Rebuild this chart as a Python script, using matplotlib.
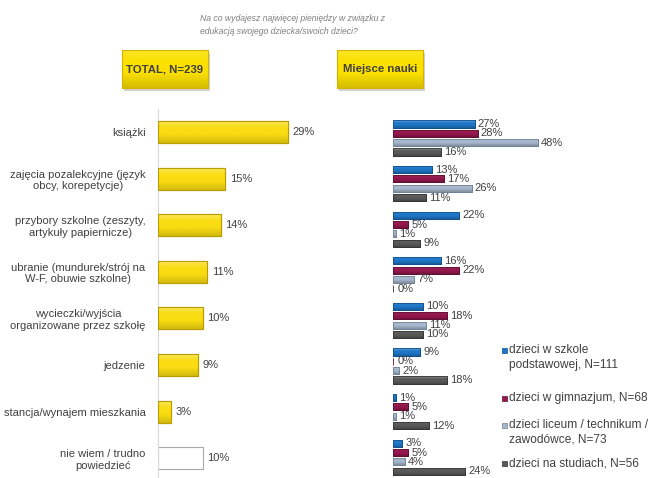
import matplotlib
matplotlib.use("Agg")
import matplotlib.pyplot as plt
import numpy as np
from matplotlib.patches import Rectangle
from matplotlib.colors import to_rgb

plt.rcParams['font.family'] = ['Liberation Sans', 'DejaVu Sans']

# ---------------- data ----------------
categories = [
    "książki",
    "zajęcia pozalekcyjne (język\nobcy, korepetycje)",
    "przybory szkolne (zeszyty,\nartykuły papiernicze)",
    "ubranie (mundurek/strój na\nW-F, obuwie szkolne)",
    "wycieczki/wyjścia\norganizowane przez szkołę",
    "jedzenie",
    "stancja/wynajem mieszkania",
    "nie wiem / trudno\npowiedzieć",
]
total = [29, 15, 14, 11, 10, 9, 3, 10]

series_names = [
    "dzieci w szkole\npodstawowej, N=111",
    "dzieci w gimnazjum, N=68",
    "dzieci liceum / technikum /\nzawodówce, N=73",
    "dzieci na studiach, N=56",
]
podstawowa = [27, 13, 22, 16, 10, 9, 1, 3]
gimnazjum = [28, 17, 5, 22, 18, 0, 5, 5]
liceum = [48, 26, 1, 7, 11, 2, 1, 4]
studia = [16, 11, 9, 0, 10, 18, 12, 24]
series_values = [podstawowa, gimnazjum, liceum, studia]

title = "Na co wydajesz najwięcej pieniędzy w związku z\nedukacją swojego dziecka/swoich dzieci?"
header_left = "TOTAL, N=239"
header_right = "Miejsce nauki"

# ---------------- style ----------------
W, H = 653, 478
series_colors = ["#1f77c8", "#95184e", "#a6b6cc", "#595959"]
series_edges = ["#0d4f8f", "#5e0c30", "#6f8199", "#333333"]
yellow = "#f9dc12"
yellow_edge = "#b89c00"
text_col = "#404040"
FS = 8.0

fig = plt.figure(figsize=(W / 100, H / 100), dpi=100)
fig.patch.set_facecolor("white")


def px_axes(left, top, width, height):
    return fig.add_axes([left / W, 1 - (top + height) / H, width / W, height / H])


def gradient(color, n=32, lt=0.45, dk=0.78):
    c = np.array(to_rgb(color))
    t = np.linspace(0, 1, n)[:, None]
    light = c + (1 - c) * lt
    dark = c * dk
    top = light + (c - light) * np.clip(t / 0.3, 0, 1)
    bot = c + (dark - c) * np.clip((t - 0.6) / 0.4, 0, 1)
    g = np.where(t < 0.5, top, bot)
    return g[:, None, :]


def grad_bars(ax, bars, color, lt=0.45, dk=0.78):
    g = gradient(color, lt=lt, dk=dk)
    for b in bars:
        b.set_zorder(2)
        x0, y0 = b.get_x(), b.get_y()
        w, h = b.get_width(), b.get_height()
        if w <= 0:
            continue
        im = ax.imshow(g, extent=(x0, x0 + w, y0 + h, y0), origin="upper",
                       aspect="auto", zorder=2.5, interpolation="bilinear")
        im.set_clip_path(b)
        edge = Rectangle((x0, y0), w, h, facecolor="none",
                         edgecolor=b.get_edgecolor(), linewidth=b.get_linewidth(),
                         zorder=3)
        ax.add_patch(edge)


n = len(categories)
y = np.arange(n)

# ---------------- left panel ----------------
lstep = 46.6
ltop = 132 - lstep / 2
axL = px_axes(158, ltop, 170, lstep * n)
colors_l = [yellow] * (n - 1) + ["white"]
edges_l = [yellow_edge] * (n - 1) + ["#a8a8a8"]
barsL = axL.barh(y, total, height=0.47, color=colors_l, edgecolor=edges_l, linewidth=0.8)
grad_bars(axL, list(barsL)[:-1], yellow, lt=0.3, dk=0.85)
for yi, v in zip(y, total):
    axL.text(v + 1.0, yi, f"{v}%", va="center", ha="left", fontsize=FS, color=text_col)
axL.set_xlim(0, 170 / 4.48)
axL.set_ylim(n - 0.5, -0.5)
for s in ["top", "right", "bottom"]:
    axL.spines[s].set_visible(False)
axL.spines["left"].set_color("#d9d9d9")
axL.spines["left"].set_linewidth(0.8)
axL.set_xticks([])
axL.set_yticks(y)
axL.set_yticklabels(categories, fontsize=FS, color=text_col, multialignment="center")
axL.tick_params(axis="y", length=0, pad=9)
axL.patch.set_alpha(0)

# ---------------- right panel ----------------
rstep = 45.6
rtop = 138 - rstep / 2
axR = px_axes(393, rtop, 200, rstep * n)
offs = [-1.5, -0.5, 0.5, 1.5]
gap = 0.205
for k, vals in enumerate(series_values):
    yy = y + offs[k] * gap
    bars = axR.barh(yy, vals, height=0.155, color=series_colors[k],
                    edgecolor=series_edges[k], linewidth=0.6)
    grad_bars(axR, bars, series_colors[k])
    for yi, v in zip(yy, vals):
        axR.text(max(v, 0.6) + 1.0, yi, f"{v}%", va="center", ha="left",
                 fontsize=FS, color=text_col)
axR.set_xlim(0, 200 / 3.02)
axR.set_ylim(n - 0.5, -0.5)
axR.axis("off")

# ---------------- legend ----------------
leg_y = [350, 398, 425, 463]
for k, (name, yy) in enumerate(zip(series_names, leg_y)):
    fig.patches.append(Rectangle((502 / W, 1 - (yy + 3) / H), 5 / W, 5 / H,
                                 transform=fig.transFigure,
                                 facecolor=series_colors[k],
                                 edgecolor=series_edges[k], linewidth=0.5))
    fig.text(509 / W, 1 - (yy - 6) / H, name, ha="left", va="top",
             fontsize=8.6, color=text_col, linespacing=1.3)

# ---------------- headers ----------------
hdr_grad = gradient("#fbe000", lt=0.15, dk=0.85)
for (x0, label) in [(122, header_left), (337, header_right)]:
    sh = fig.add_axes([(x0 + 2) / W, 1 - 91 / H, 86 / W, 38 / H])
    sh.set_facecolor("#b5b5b5")
    sh.set_xticks([]); sh.set_yticks([])
    for s in sh.spines.values():
        s.set_visible(False)
    sh.patch.set_alpha(0.6)
    hb = fig.add_axes([x0 / W, 1 - 88 / H, 86 / W, 38 / H])
    hb.imshow(hdr_grad, extent=(0, 1, 0, 1), aspect="auto", origin="upper")
    hb.set_xlim(0, 1); hb.set_ylim(0, 1)
    hb.set_xticks([]); hb.set_yticks([])
    for s in hb.spines.values():
        s.set_color("#d4b400")
        s.set_linewidth(0.8)
    hb.text(0.5, 0.5, label, ha="center", va="center",
            fontsize=8.2, fontweight="bold", color=text_col)

# ---------------- title ----------------
fig.text(200 / W, 1 - 14 / H, title, ha="left", va="top", fontsize=6.2,
         style="italic", color="#808080", linespacing=1.6)

fig.savefig("out.png", dpi=100)
